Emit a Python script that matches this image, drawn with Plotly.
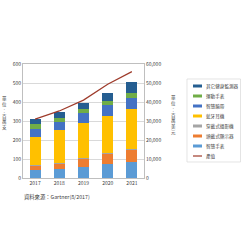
import plotly.graph_objects as go

years = ["2017", "2018", "2019", "2020", "2021"]
watch = [41, 50, 60, 75, 83]          # 智慧手表
hmd = [24, 25, 40, 52, 67]            # 頭戴式顯示器
camera = [2, 2, 3, 3, 5]              # 穿戴式攝影機
headset = [148, 175, 185, 198, 208]   # 藍牙耳機
wristband = [43, 44, 52, 56, 60]      # 智慧腕帶
sports = [24, 21, 22, 23, 23]         # 運動手表
other = [28, 28, 31, 39, 58]          # 其它健身監測器
revenue = [31000, 35300, 41000, 49300, 56000]  # 產值

series = [
    ("智慧手表", watch, "#5B9BD5"),
    ("頭戴式顯示器", hmd, "#ED7D31"),
    ("穿戴式攝影機", camera, "#A5A5A5"),
    ("藍牙耳機", headset, "#FFC000"),
    ("智慧腕帶", wristband, "#4472C4"),
    ("運動手表", sports, "#70AD47"),
    ("其它健身監測器", other, "#255E91"),
]
line_name, line_color = "產值", "#9E3B2B"

FONT = "Noto Sans CJK TC, Noto Sans, sans-serif"
W = H = 242
L, R, T, B = 23, 98, 64, 64
PW, PH = W - L - R, H - T - B


def px_x(p):
    return (p - L) / PW


def px_y(p):
    return (H - B - p) / PH


fig = go.Figure()
for name, vals, color in series:
    fig.add_trace(go.Bar(x=years, y=vals, name=name, marker=dict(color=color, line=dict(width=0))))
fig.add_trace(go.Scatter(x=years, y=revenue, name=line_name, mode="lines", yaxis="y2",
                         line=dict(color=line_color, width=1.2)))

# manual legend (plotly's legend rows are too tall for this size)
shapes = [dict(type="rect", xref="paper", yref="paper", x0=px_x(187), x1=px_x(240.5),
               y0=px_y(162), y1=px_y(79), line=dict(color="#D9D9D9", width=0.7),
               fillcolor="white", layer="below")]
annotations = []
entries = [(n, c, "bar") for n, _, c in reversed(series)] + [(line_name, line_color, "line")]
for i, (name, color, kind) in enumerate(entries):
    yc = 86 + i * 10
    if kind == "bar":
        shapes.append(dict(type="rect", xref="paper", yref="paper", x0=px_x(193), x1=px_x(202),
                           y0=px_y(yc + 1.5), y1=px_y(yc - 1.5), line=dict(width=0), fillcolor=color))
    else:
        shapes.append(dict(type="line", xref="paper", yref="paper", x0=px_x(193), x1=px_x(202),
                           y0=px_y(yc), y1=px_y(yc), line=dict(color=color, width=1.2)))
    annotations.append(dict(text=name, xref="paper", yref="paper", x=px_x(204), y=px_y(yc),
                            xanchor="left", yanchor="middle", showarrow=False,
                            font=dict(size=4.6, color="#404040", family=FONT)))

annotations += [
    dict(text="<br>".join(list("單位：百萬支")), xref="paper", yref="paper", x=px_x(4), y=px_y(113),
         xanchor="center", yanchor="middle", showarrow=False,
         font=dict(size=4.5, color="#404040", family=FONT)),
    dict(text="<br>".join(list("單位：百萬美元")), xref="paper", yref="paper", x=px_x(173), y=px_y(115),
         xanchor="center", yanchor="middle", showarrow=False,
         font=dict(size=4.5, color="#404040", family=FONT)),
    dict(text="資料來源：Gartner(8/2017)", xref="paper", yref="paper", x=px_x(22), y=px_y(197),
         xanchor="left", yanchor="middle", showarrow=False,
         font=dict(size=5.3, color="#404040", family=FONT)),
]

fig.update_layout(
    width=W, height=H,
    margin=dict(l=L, r=R, t=T, b=B),
    barmode="stack", bargap=0.55,
    plot_bgcolor="white", paper_bgcolor="white",
    font=dict(family=FONT, size=5, color="#404040"),
    showlegend=False,
    xaxis=dict(showline=True, linecolor="#BFBFBF", linewidth=0.8, mirror=True,
               ticks="", tickfont=dict(size=5, color="#404040"), fixedrange=True),
    yaxis=dict(range=[0, 600], dtick=100, showgrid=True, gridcolor="#D9D9D9", gridwidth=0.8,
               showline=True, linecolor="#BFBFBF", linewidth=0.8, mirror=True,
               tickfont=dict(size=5, color="#404040"), ticks="", zeroline=False),
    yaxis2=dict(range=[0, 60000], dtick=10000, overlaying="y", side="right", showgrid=False,
                tickformat=",", showline=True, linecolor="#BFBFBF", linewidth=0.8,
                tickfont=dict(size=5, color="#404040"), ticks="", zeroline=False),
    shapes=shapes,
    annotations=annotations,
)

fig.write_html("out.html")
